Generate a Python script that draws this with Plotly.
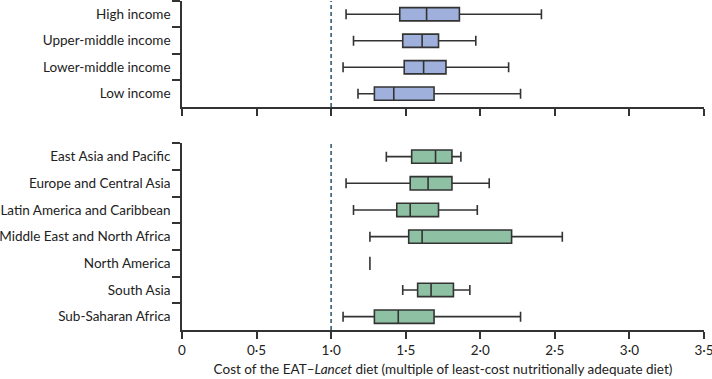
import plotly.graph_objects as go

income_groups = ["High income", "Upper-middle income", "Lower-middle income", "Low income"]
income_low = [1.10, 1.15, 1.08, 1.18]
income_q1 = [1.46, 1.48, 1.49, 1.29]
income_med = [1.64, 1.61, 1.62, 1.42]
income_q3 = [1.86, 1.72, 1.77, 1.69]
income_high = [2.41, 1.97, 2.19, 2.27]

regions = ["East Asia and Pacific", "Europe and Central Asia", "Latin America and Caribbean",
           "Middle East and North Africa", "North America", "South Asia", "Sub-Saharan Africa"]
region_low = [1.37, 1.10, 1.15, 1.26, 1.26, 1.48, 1.08]
region_q1 = [1.54, 1.53, 1.44, 1.52, 1.26, 1.58, 1.29]
region_med = [1.70, 1.65, 1.53, 1.61, 1.26, 1.67, 1.45]
region_q3 = [1.81, 1.81, 1.72, 2.21, 1.26, 1.82, 1.69]
region_high = [1.87, 2.06, 1.98, 2.55, 1.26, 1.93, 2.27]

x_ticks = [0, 0.5, 1.0, 1.5, 2.0, 2.5, 3.0, 3.5]
x_ticktext = ["0", "0·5", "1·0", "1·5", "2·0", "2·5", "3·0", "3·5"]
reference_line = 1.0

FONT = "Lato"
FSIZE = 13.5
LINE = "#333333"

fig = go.Figure()

for i, name in enumerate(income_groups):
    fig.add_trace(go.Box(
        y=[name], q1=[income_q1[i]], median=[income_med[i]], q3=[income_q3[i]],
        lowerfence=[income_low[i]], upperfence=[income_high[i]],
        orientation="h", xaxis="x2", yaxis="y2",
        fillcolor="#9FB0DC", line=dict(color=LINE, width=1.6),
        width=0.5, whiskerwidth=0.75, boxpoints=False, showlegend=False,
        hoverinfo="skip"))

for i, name in enumerate(regions):
    fig.add_trace(go.Box(
        y=[name], q1=[region_q1[i]], median=[region_med[i]], q3=[region_q3[i]],
        lowerfence=[region_low[i]], upperfence=[region_high[i]],
        orientation="h", xaxis="x", yaxis="y",
        fillcolor="#8EC0A4", line=dict(color=LINE, width=1.6),
        width=0.5, whiskerwidth=0.75, boxpoints=False, showlegend=False,
        hoverinfo="skip"))

axis_font = dict(family=FONT, size=FSIZE, color="#222222")

xcommon = dict(range=[0, 3.5], showline=True, linecolor=LINE, linewidth=1.5,
               ticks="outside", ticklen=7, tickwidth=1.5, tickcolor=LINE,
               tickvals=x_ticks, ticktext=x_ticktext, showgrid=False, zeroline=False,
               tickfont=axis_font, fixedrange=True, automargin=False,
               ticklabeloverflow="allow")

ycommon = dict(type="category", showline=True, linecolor=LINE, linewidth=1.5,
               ticks="outside", ticklen=8, tickwidth=1.5, tickcolor=LINE,
               tickson="boundaries", showgrid=False, zeroline=False,
               tickfont=axis_font, fixedrange=True, automargin=False,
               ticklabelstandoff=7)

fig.update_layout(
    width=712, height=379,
    margin=dict(l=182, r=8, t=1, b=49, autoexpand=False),
    paper_bgcolor="white", plot_bgcolor="white",
    font=dict(family=FONT, size=FSIZE, color="#222222"),
    xaxis=dict(**xcommon, anchor="y",
               title=dict(text="Cost of the EAT–<i>Lancet</i> diet (multiple of least-cost nutritionally adequate diet)",
                          font=dict(family=FONT, size=FSIZE, color="#222222"), standoff=8)),
    yaxis=dict(**ycommon, domain=[0, 0.5675], anchor="x",
               categoryorder="array", categoryarray=regions,
               range=[len(regions) - 0.5, -0.5]),
    xaxis2=dict(**xcommon, anchor="y2", showticklabels=False),
    yaxis2=dict(**ycommon, domain=[0.678, 1.0], anchor="x2",
                categoryorder="array", categoryarray=income_groups,
                range=[len(income_groups) - 0.5, -0.5]),
)

for xr, yr in (("x", "y domain"), ("x2", "y2 domain")):
    fig.add_shape(type="line", xref=xr, yref=yr, x0=reference_line, x1=reference_line,
                  y0=0, y1=1, line=dict(color="#4A6B7C", width=1.8, dash="4px,3px"),
                  layer="below")

fig.write_html("out.html", config={"displayModeBar": False},
               post_script="document.body.style.margin='0';document.body.style.overflow='hidden';")
